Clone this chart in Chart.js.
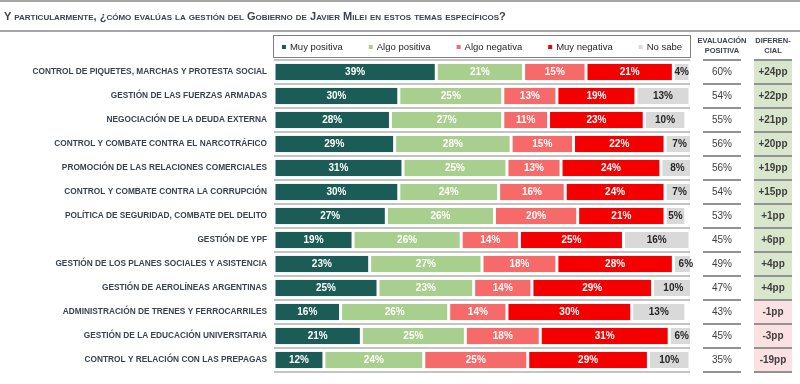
<!DOCTYPE html>
<html>
<head>
<meta charset="utf-8">
<script src="https://cdn.jsdelivr.net/npm/chart.js@4.4.1/dist/chart.umd.min.js"></script>
<style>
  body { margin: 0; background: #fff; }
  #wrap { position: relative; width: 800px; height: 384px; }
  #title {
    position: absolute; left: 0; top: 0; width: 800px; height: 32px;
    box-sizing: border-box;
    border-top: 2px solid #a6a6a6; border-bottom: 2px solid #a6a6a6;
    padding-left: 4px;
    font: bold 11px "Liberation Sans", sans-serif; font-variant: small-caps;
    line-height: 28px;
    color: #3b4350; white-space: nowrap;
  }
  canvas { position: absolute; left: 0; top: 0; }
</style>
</head>
<body>
<div id="wrap">
  <canvas id="chart" width="800" height="384"></canvas>
  <div id="title">Y particularmente, ¿cómo evalúas la gestión del Gobierno de Javier Milei en estos temas específicos?</div>
</div>
<script>
const FONT = '"Liberation Sans", sans-serif';

const categories = [
  "CONTROL DE PIQUETES, MARCHAS Y PROTESTA SOCIAL",
  "GESTIÓN DE LAS FUERZAS ARMADAS",
  "NEGOCIACIÓN DE LA DEUDA EXTERNA",
  "CONTROL Y COMBATE CONTRA EL NARCOTRÁFICO",
  "PROMOCIÓN DE LAS RELACIONES COMERCIALES",
  "CONTROL Y COMBATE CONTRA LA CORRUPCIÓN",
  "POLÍTICA DE SEGURIDAD, COMBATE DEL DELITO",
  "GESTIÓN DE YPF",
  "GESTIÓN DE LOS PLANES SOCIALES Y ASISTENCIA",
  "GESTIÓN DE AEROLÍNEAS ARGENTINAS",
  "ADMINISTRACIÓN DE TRENES Y FERROCARRILES",
  "GESTIÓN DE LA EDUCACIÓN UNIVERSITARIA",
  "CONTROL Y RELACIÓN CON LAS PREPAGAS"
];

const muyPositiva  = [39, 30, 28, 29, 31, 30, 27, 19, 23, 25, 16, 21, 12];
const algoPositiva = [21, 25, 27, 28, 25, 24, 26, 26, 27, 23, 26, 25, 24];
const algoNegativa = [15, 13, 11, 15, 13, 16, 20, 14, 18, 14, 14, 18, 25];
const muyNegativa  = [21, 19, 23, 22, 24, 24, 21, 25, 28, 29, 30, 31, 29];
const noSabe       = [4, 13, 10, 7, 8, 7, 5, 16, 6, 10, 13, 6, 10];

const evalPositiva = [60, 54, 55, 56, 56, 54, 53, 45, 49, 47, 43, 45, 35];
const diferencial  = [24, 22, 21, 20, 19, 15, 1, 6, 4, 4, -1, -3, -19];

function makeSeries(label, data, color, labelColor) {
    return {
        label, data,
        backgroundColor: color,
        borderColor: "#ffffff",
        borderWidth: { left: 1.5, right: 1.5, top: 0, bottom: 0 },
        borderSkipped: false,
        labelColor
    };
}

const datasets = [
    makeSeries("Muy positiva", muyPositiva, "#1b5c56", "#ffffff"),
    makeSeries("Algo positiva", algoPositiva, "#a9cf8f", "#ffffff"),
    makeSeries("Algo negativa", algoNegativa, "#f66a6a", "#ffffff"),
    makeSeries("Muy negativa", muyNegativa, "#f40000", "#ffffff"),
    makeSeries("No sabe", noSabe, "#d9d9d9", "#262626")
];

// value labels inside each segment
const segmentLabels = {
    id: "segmentLabels",
    afterDatasetsDraw(chart) {
        const ctx = chart.ctx;
        ctx.save();
        ctx.font = `bold 10px ${FONT}`;
        ctx.textAlign = "center";
        ctx.textBaseline = "middle";
        chart.data.datasets.forEach((ds, i) => {
            chart.getDatasetMeta(i).data.forEach((bar, j) => {
                ctx.fillStyle = ds.labelColor;
                ctx.fillText(ds.data[j] + "%", (bar.x + bar.base) / 2, bar.y + 0.5);
            });
        });
        ctx.restore();
    }
};

// boxed legend above the bars
const boxLegend = {
    id: "boxLegend",
    afterDraw(chart) {
        const { ctx, chartArea } = chart;
        const top = 35, bottom = 57, gap = 26;
        ctx.save();
        ctx.strokeStyle = "#7f7f7f";
        ctx.lineWidth = 1;
        ctx.strokeRect(chartArea.left - 0.5, top + 0.5, chartArea.right - chartArea.left + 1, bottom - top);
        ctx.font = `9.5px ${FONT}`;
        ctx.textBaseline = "middle";
        const items = chart.data.datasets.map(ds => ({ text: ds.label, color: ds.backgroundColor, w: 8 + ctx.measureText(ds.label).width }));
        const total = items.reduce((s, it) => s + it.w, 0) + gap * (items.length - 1);
        let x = (chartArea.left + chartArea.right) / 2 - total / 2;
        const cy = (top + bottom) / 2 + 1;
        items.forEach(it => {
            ctx.fillStyle = it.color;
            ctx.fillRect(x, cy - 2, 4, 4);
            ctx.fillStyle = "#262626";
            ctx.fillText(it.text, x + 8, cy);
            x += it.w + gap;
        });
        ctx.restore();
    }
};

// "evaluación positiva" and "diferencial" columns
const sideColumns = {
    id: "sideColumns",
    afterDraw(chart) {
        const { ctx, chartArea } = chart;
        const yScale = chart.scales.y;
        const step = yScale.getPixelForValue(1) - yScale.getPixelForValue(0);
        const evalL = chartArea.right + 13, evalR = chartArea.right + 51;
        const diffL = chartArea.right + 64, diffR = chartArea.right + 102;
        ctx.save();

        ctx.fillStyle = "#3b4350";
        ctx.font = `bold 7.5px ${FONT}`;
        ctx.textAlign = "center";
        ctx.textBaseline = "middle";
        ctx.fillText("EVALUACIÓN", (evalL + evalR) / 2, 41);
        ctx.fillText("POSITIVA", (evalL + evalR) / 2, 51);
        ctx.fillText("DIFEREN-", (diffL + diffR) / 2, 41);
        ctx.fillText("CIAL", (diffL + diffR) / 2, 51);

        categories.forEach((c, i) => {
            const cy = yScale.getPixelForValue(i);
            const top = cy - step / 2;
            ctx.fillStyle = diferencial[i] >= 0 ? "#d8e6cc" : "#fbe1e1";
            ctx.fillRect(diffL, top + 1, diffR - diffL, step - 2);

            ctx.fillStyle = "#404040";
            ctx.font = `10px ${FONT}`;
            ctx.fillText(evalPositiva[i] + "%", (evalL + evalR) / 2, cy + 0.5);
            ctx.font = `bold 10px ${FONT}`;
            const d = diferencial[i];
            ctx.fillText((d > 0 ? "+" : "") + d + "pp", (diffL + diffR) / 2, cy + 0.5);
        });

        ctx.strokeStyle = "#6f6f6f";
        ctx.lineWidth = 1.5;
        for (let i = 0; i <= categories.length; i++) {
            const y = yScale.getPixelForValue(i) - step / 2;
            ctx.beginPath();
            ctx.moveTo(evalL, y); ctx.lineTo(evalR, y);
            ctx.moveTo(diffL, y); ctx.lineTo(diffR, y);
            ctx.stroke();
        }
        ctx.restore();
    }
};

new Chart(document.getElementById("chart"), {
    type: "bar",
    data: { labels: categories, datasets },
    options: {
        indexAxis: "y",
        responsive: false,
        animation: false,
        barPercentage: 0.68,
        categoryPercentage: 1,
        layout: { padding: { top: 60, bottom: 4, left: 0, right: 110 } },
        plugins: {
            legend: { display: false },
            tooltip: { enabled: false }
        },
        scales: {
            x: { stacked: true, min: 0, max: 100, display: false },
            y: {
                stacked: true,
                afterFit(scale) { scale.width = 274; },
                border: { display: false },
                grid: { offset: true, color: "#c4c4c4", lineWidth: 2, drawTicks: false },
                ticks: {
                    padding: 7,
                    color: "#3b4350",
                    font: { family: FONT, size: 8.3, weight: "bold" }
                }
            }
        }
    },
    plugins: [segmentLabels, boxLegend, sideColumns]
});
</script>
</body>
</html>
